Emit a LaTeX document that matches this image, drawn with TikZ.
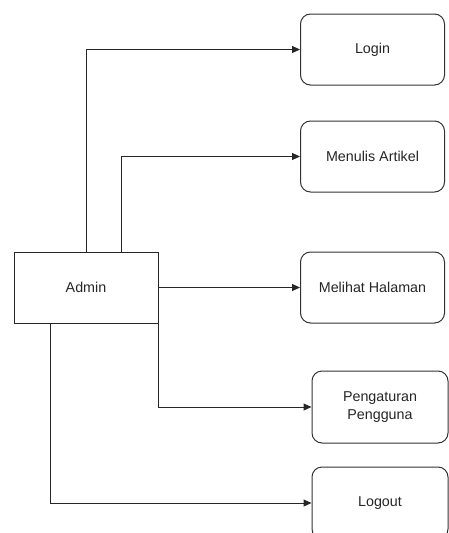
\documentclass[tikz,border=0pt]{standalone}
\usepackage{fontspec}
\setmainfont{Liberation Sans}
\usetikzlibrary{arrows.meta}
\begin{document}
\begin{tikzpicture}[x=1pt,y=-1pt,
  every node/.style={font=\fontsize{14.3}{17.5}\selectfont, text=black!85},
  ubox/.style={draw=black!80, line width=1pt, rounded corners=10pt, minimum width=#1, minimum height=71pt, inner sep=0pt, align=center},
  ubox/.default=144pt,
  abox/.style={draw=black!85, line width=1pt, minimum width=144pt, minimum height=71pt, inner sep=0pt},
  conn/.style={draw=black!85, line width=1pt, -{Triangle[length=8pt,width=7pt]}}]
\useasboundingbox (0,0) rectangle (449,533);
\clip (0,0) rectangle (449,533);
\fill[white] (0,0) rectangle (449,533);
\node[abox] (admin) at (86,287.5) {Admin};
\node[ubox] (login) at (372.5,49.5) {Login};
\node[ubox] (tulis) at (372.5,156.5) {Menulis Artikel};
\node[ubox] (lihat) at (372.5,287.5) {Melihat Halaman};
\node[ubox=136pt, minimum height=72pt] (atur) at (380,407) {Pengaturan\\Pengguna};
\node[ubox=136pt, minimum height=72pt] (logout) at (380,503) {Logout};
\draw[conn] (admin.north) |- (login.west);
\draw[conn] ([xshift=35pt]admin.north) |- (tulis.west);
\draw[conn] (admin.east) -- (lihat.west);
\draw[conn] (admin.south east) |- (atur.west);
\draw[conn] ([xshift=-36pt]admin.south) |- (logout.west);
\end{tikzpicture}
\end{document}
